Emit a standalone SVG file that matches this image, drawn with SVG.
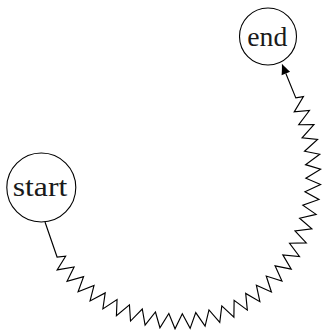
<svg xmlns="http://www.w3.org/2000/svg" width="322" height="331" viewBox="0 0 322 331">
<style>
.node circle{fill:#fff;stroke:#000;stroke-width:1.1}
.node text{font-family:"Liberation Serif","DejaVu Serif",serif;font-size:26.5px;fill:#1a1a1a;text-anchor:middle}
.edge{fill:none;stroke:#000;stroke-width:1.15;stroke-linejoin:miter}
</style>
<defs>
<marker id="arrow" markerUnits="userSpaceOnUse" viewBox="0 -6 12 12" markerWidth="12" markerHeight="12" refX="0" refY="0" orient="auto" overflow="visible">
<path d="M10.5,0 C7.5,-1.1 2.8,-3.1 0,-4.6 L0,4.6 C2.8,3.1 7.5,1.1 10.5,0 Z" fill="#000"/>
</marker>
</defs>
<g id="connectors">
<path class="edge" marker-end="url(#arrow)" d="M45,222 L57.08,257.02 L65.63,256.25 L57.15,269.86 L74.09,266.91 L67.03,281.26 L83.57,276.61 L78.08,291.74 L94.02,285.37 L90.06,300.94 L105.21,292.89 L102.88,308.91 L117.05,299.52 L116.42,315.75 L129.44,304.86 L130.52,321.05 L142.27,309.0 L145.09,325.19 L155.45,311.98 L159.95,327.77 L168.83,313.50 L175.03,328.82 L182.31,313.78 L190.14,328.32 L195.75,312.58 L205.09,326.19 L208.97,309.93 L219.76,322.44 L221.80,305.85 L233.90,317.11 L234.11,300.38 L247.34,310.13 L245.69,293.41 L259.87,301.68 L256.37,285.23 L271.42,291.95 L266.24,276.05 L281.97,281.08 L275.07,265.85 L291.24,269.12 L282.83,254.89 L299.46,256.46 L289.55,243.24 L306.27,242.93 L295.00,230.90 L311.85,228.90 L299.60,218.26 L316.14,214.40 L302.80,205.12 L318.94,199.47 L304.96,191.80 L320.58,184.47 L305.87,178.26 L320.61,169.23 L305.53,164.67 L319.74,154.27 L304.53,151.28 L317.57,139.39 L302.08,137.86 L313.93,124.65 L298.73,124.76 L309.43,110.48 L294.22,111.93 L303.43,96.58 L295.8,97.9 L285.85,73.49"/>
</g>
<g id="node-start" class="node">
<circle cx="41.3" cy="187.5" r="34.5"/>
<text x="40" y="195.5" textLength="54.6" lengthAdjust="spacingAndGlyphs">start</text>
</g>
<g id="node-end" class="node">
<circle cx="268" cy="36.5" r="28.5"/>
<text x="267.3" y="46.2" textLength="40" lengthAdjust="spacingAndGlyphs">end</text>
</g>
</svg>
